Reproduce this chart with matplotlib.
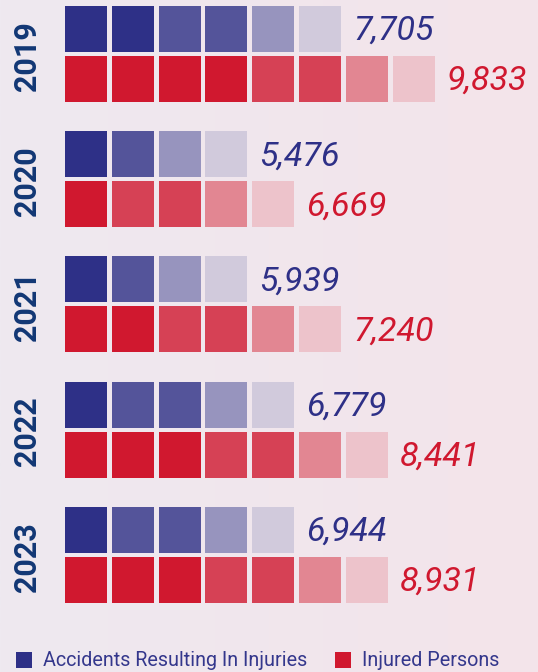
import numpy as np
import matplotlib
matplotlib.use("Agg")
import matplotlib.pyplot as plt
from matplotlib.colors import LinearSegmentedColormap

# ---------------- data ----------------
years = ["2019", "2020", "2021", "2022", "2023"]
accidents = [7705, 5476, 5939, 6779, 6944]
injured = [9833, 6669, 7240, 8441, 8931]
# shade level of each square (0 = darkest, 3 = lightest)
accident_shades = [[0, 0, 1, 1, 2, 3], [0, 1, 2, 3], [0, 1, 2, 3],
                   [0, 1, 1, 2, 3], [0, 1, 1, 2, 3]]
injured_shades = [[0, 0, 0, 0, 1, 1, 2, 3], [0, 1, 1, 2, 3],
                  [0, 0, 1, 1, 2, 3], [0, 0, 0, 1, 1, 2, 3],
                  [0, 0, 0, 1, 1, 2, 3]]
legend_labels = ["Accidents Resulting In Injuries", "Injured Persons"]

# ---------------- style ----------------
blue_shades = ["#2E3087", "#54549A", "#9794BE", "#D1CADC"]
red_shades = ["#D0182F", "#D64155", "#E28692", "#EDC3CB"]
blue_text = "#2E3087"
red_text = "#D0182F"
year_color = "#123775"

W, H = 538, 672
fig = plt.figure(figsize=(W / 100, H / 100), dpi=100)
ax = fig.add_axes([0, 0, 1, 1])
ax.set_xlim(0, W)
ax.set_ylim(H, 0)
ax.axis("off")

# background gradient
grad = np.linspace(0, 1, 256).reshape(1, -1)
bg = LinearSegmentedColormap.from_list("bg", ["#EEE9F0", "#F4E4EA"])
ax.imshow(grad, cmap=bg, extent=[0, W, H, 0], aspect="auto", zorder=0)

x0 = 65
step_x = 46.8
sq_w = 42
sq_h = 46
row_gap = 50
group_step = 125.2
top0 = 6
label_gap = 12

val_font = dict(family=["Roboto", "DejaVu Sans"], style="italic",
                fontweight="normal", fontsize=24.5)

for i, yr in enumerate(years):
    top = top0 + i * group_step
    for row, (shades, palette, val, tcol) in enumerate(
            [(accident_shades[i], blue_shades, accidents[i], blue_text),
             (injured_shades[i], red_shades, injured[i], red_text)]):
        y = top + row * row_gap
        n = len(shades)
        xs = x0 + np.arange(n) * step_x
        ax.bar(xs, sq_h, width=sq_w, bottom=y, align="edge",
               color=[palette[s] for s in shades], linewidth=0, zorder=2)
        ax.text(xs[-1] + sq_w + label_gap, y + sq_h / 2 + 2, f"{val:,}",
                color=tcol, ha="left", va="center", zorder=3, **val_font)
    ax.text(27, top + (row_gap + sq_h) / 2 + 2, yr, rotation=90,
            ha="center", va="center", color=year_color,
            fontsize=22, fontweight="bold", family=["Roboto", "DejaVu Sans"])

# legend
leg_items = [(16, blue_shades[0], legend_labels[0]),
             (335, red_shades[0], legend_labels[1])]
for lx, c, lab in leg_items:
    ax.add_patch(plt.Rectangle((lx, 652), 16, 16, color=c, lw=0, zorder=2))
    ax.text(lx + 27, 661, lab, ha="left", va="center", color="#34378C",
            fontsize=14.2, family=["Roboto", "DejaVu Sans"])

fig.savefig("out.png", dpi=100)
